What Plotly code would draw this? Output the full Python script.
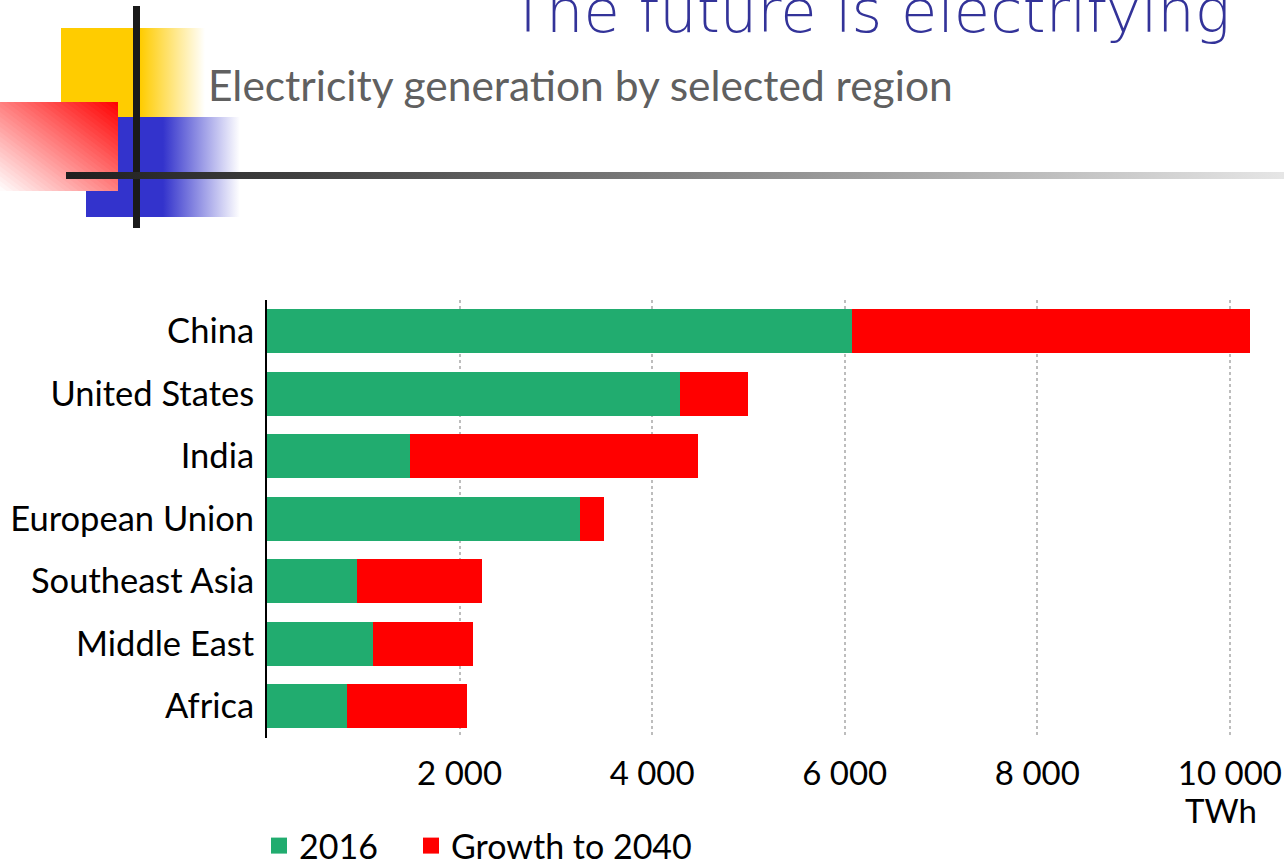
import plotly.graph_objects as go

# Electricity generation by region (TWh)
regions = ["China", "United States", "India", "European Union",
           "Southeast Asia", "Middle East", "Africa"]
gen_2016 = [6080, 4290, 1490, 3250, 930, 1100, 830]
growth_2040 = [4130, 710, 2990, 250, 1300, 1040, 1250]

tick_vals = [2000, 4000, 6000, 8000, 10000]
tick_text = ["2 000", "4 000", "6 000", "8 000", "10 000"]

W, H = 1284, 863
GREEN = "#21AC6F"
RED = "#FF0000"
FONT = "Lato"


def px(x):
    return x / W


def py(y):
    return 1 - y / H


fig = go.Figure()

# --- stacked bars ---
fig.add_trace(go.Bar(y=regions, x=gen_2016, orientation="h", name="2016",
                     marker=dict(color=GREEN, line=dict(width=0)),
                     showlegend=False))
fig.add_trace(go.Bar(y=regions, x=growth_2040, orientation="h",
                     name="Growth to 2040",
                     marker=dict(color=RED, line=dict(width=0)),
                     showlegend=False))

# legend entries with larger square swatches (one legend box each)
fig.add_trace(go.Scatter(x=[None], y=[None], mode="markers", name="2016",
                         legend="legend",
                         marker=dict(symbol="square", size=17, color=GREEN)))
fig.add_trace(go.Scatter(x=[None], y=[None], mode="markers",
                         name="Growth to 2040", legend="legend2",
                         marker=dict(symbol="square", size=17, color=RED)))


# --- decorative header graphics on a full-canvas pixel axis pair (x2/y2) ---
def rect(x0, x1, y0, y1, **kw):
    return go.Scatter(x=[x0, x1, x1, x0, x0], y=[y0, y0, y1, y1, y0],
                      xaxis="x2", yaxis="y2", mode="none", fill="toself",
                      hoverinfo="skip", showlegend=False, **kw)


# yellow block fading to the right
fig.add_trace(rect(61, 205, 28, 117, fillgradient=dict(
    type="horizontal",
    colorscale=[[0, "rgba(255,204,0,1)"], [0.55, "rgba(255,204,0,1)"],
                [1, "rgba(255,204,0,0)"]])))
# blue block fading to the right
fig.add_trace(rect(86, 240, 117, 217, fillgradient=dict(
    type="horizontal",
    colorscale=[[0, "rgba(51,51,204,1)"], [0.5, "rgba(51,51,204,1)"],
                [1, "rgba(51,51,204,0)"]])))

# red block: diagonal gradient (red top-right -> white bottom-left),
# built from thin diagonal strips clipped to the rectangle
RX0, RX1, RY0, RY1 = 0, 118, 102, 191


def clip(poly, a, b, c):
    # keep the part of the polygon where a*x + b*y <= c
    out = []
    n = len(poly)
    for i in range(n):
        p, q = poly[i], poly[(i + 1) % n]
        fp = a * p[0] + b * p[1] - c
        fq = a * q[0] + b * q[1] - c
        if fp <= 0:
            out.append(p)
        if (fp < 0 < fq) or (fq < 0 < fp):
            t = fp / (fp - fq)
            out.append((p[0] + t * (q[0] - p[0]), p[1] + t * (q[1] - p[1])))
    return out


fig.add_trace(rect(RX0, RX1, RY0, RY1, fillcolor="white"))
N = 36
wr, hr = RX1 - RX0, RY1 - RY0
for i in range(N):
    t0, t1 = i / N, min(1.0, (i + 1.4) / N)
    # strip where t0 <= ((x-RX0)/wr + (RY1-y)/hr)/2 <= t1
    base = [(RX0, RY0), (RX1, RY0), (RX1, RY1), (RX0, RY1)]
    poly = clip(base, -1 / wr, 1 / hr, -2 * t0 - RX0 / wr + RY1 / hr)
    poly = clip(poly, 1 / wr, -1 / hr, 2 * t1 + RX0 / wr - RY1 / hr)
    if len(poly) < 3:
        continue
    tm = (i + 0.5) / N
    g = int(round(255 * (1 - tm)))
    xs = [p[0] for p in poly] + [poly[0][0]]
    ys = [p[1] for p in poly] + [poly[0][1]]
    fig.add_trace(go.Scatter(x=xs, y=ys, xaxis="x2", yaxis="y2", mode="none",
                             fill="toself", fillcolor=f"rgb(255,{g},{g})",
                             hoverinfo="skip", showlegend=False))

# vertical black bar
fig.add_trace(rect(133, 140, 6, 228, fillcolor="#1a1a1a"))
# horizontal rule fading from dark to light grey
fig.add_trace(rect(66, 1284, 172, 179, fillgradient=dict(
    type="horizontal",
    colorscale=[[0, "#1e1e1e"], [0.19, "#404040"], [1, "#e6e6e6"]])))

legend_style = dict(orientation="h", xanchor="left", yanchor="middle",
                    font=dict(family=FONT, size=34, color="black"),
                    bgcolor="rgba(0,0,0,0)", itemsizing="trace")

fig.update_layout(
    width=W, height=H,
    margin=dict(l=0, r=0, t=0, b=0, autoexpand=False),
    paper_bgcolor="white", plot_bgcolor="rgba(0,0,0,0)",
    barmode="stack", bargap=0.3,
    font=dict(family=FONT, size=34, color="black"),
    xaxis=dict(domain=[px(267), px(1278)], range=[0, 10500],
               tickvals=tick_vals, ticktext=tick_text,
               showgrid=True, gridcolor="#bdbdbd", gridwidth=1.5,
               griddash="dot", zeroline=False, showline=False,
               ticks="", ticklabelstandoff=13,
               tickfont=dict(family=FONT, size=33, color="black")),
    yaxis=dict(domain=[py(737.5), py(300)], autorange="reversed",
               showline=True, linecolor="black", linewidth=2,
               showgrid=False, ticks="", ticklabelstandoff=4,
               tickfont=dict(family=FONT, size=34.5, color="black")),
    xaxis2=dict(domain=[0, 1], range=[0, W], visible=False,
                showgrid=False, zeroline=False, anchor="y2", fixedrange=True),
    yaxis2=dict(domain=[0, 1], range=[H, 0], visible=False,
                showgrid=False, zeroline=False, anchor="x2", fixedrange=True),
    legend=dict(x=px(259), y=py(846), **legend_style),
    legend2=dict(x=px(411), y=py(846), **legend_style),
    annotations=[
        dict(text="The future is electrifying", x=px(1232), y=py(11),
             xref="paper", yref="paper", xanchor="right", yanchor="middle",
             showarrow=False,
             font=dict(family="DejaVu Sans", size=59, weight=200,
                       color="#333399")),
        dict(text="Electricity generation by selected region", x=px(206),
             y=py(85), xref="paper", yref="paper", xanchor="left",
             yanchor="middle", showarrow=False,
             font=dict(family=FONT, size=42.5, color="#606060")),
        dict(text="TWh", x=px(1221), y=py(810), xref="paper", yref="paper",
             xanchor="center", yanchor="middle", showarrow=False,
             font=dict(family=FONT, size=33, color="black")),
    ],
)

fig.write_html("out.html")
